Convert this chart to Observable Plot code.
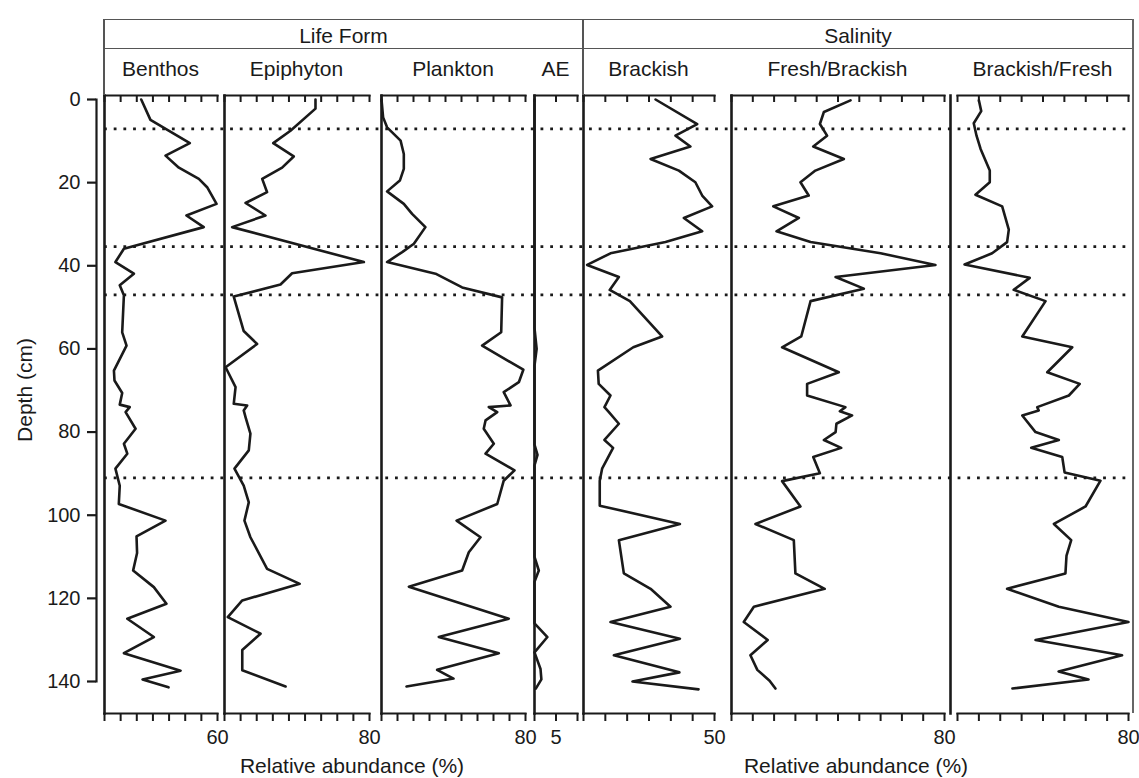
<!DOCTYPE html>
<html>
<head>
<meta charset="utf-8">
<script src="https://cdn.jsdelivr.net/npm/d3@7"></script>
<script src="https://cdn.jsdelivr.net/npm/@observablehq/plot@0.6"></script>
<style>
  body { margin: 0; background: #fff; }
  #chart { position: relative; width: 1139px; height: 778px; font-family: "Liberation Sans", Arial, sans-serif; color: #1a1a1a; overflow: hidden; }
  #chart svg { position: absolute; left: 0; top: 0; }
  .ln { position: absolute; background: #555; }
  .txt { position: absolute; white-space: nowrap; transform: translate(-50%, -50%); font-size: 21px; line-height: 1; }
</style>
</head>
<body>
<div id="chart"></div>
<script>
// ---------------- DATA ----------------
const groupNames = ["Life Form", "Salinity"];
const panelNames = ["Benthos", "Epiphyton", "Plankton", "AE", "Brackish", "Fresh/Brackish", "Brackish/Fresh"];
const panelMax = [60, 80, 80, 10, 50, 80, 80];
const panelTickIntervals = [7, 9, 9, 2, 6, 10, 8];
const panelTickLabel = [60, 80, 80, 5, 50, 80, 80];
const depthTicks = [0, 20, 40, 60, 80, 100, 120, 140];
const zoneBoundaries = [7.05, 35.4, 47.0, 91.0];
const xTitle = "Relative abundance (%)";
const yTitle = "Depth (cm)";

const benthosDepth = [0, 4.9, 10.5, 13.5, 16.4, 19.1, 21.1, 25.1, 27.9, 30.7, 35.9, 39.1, 41.9, 44.7, 47.1, 56.0, 59.2, 65.2, 67.6, 70.6, 73.4, 74.0, 75.2, 79.2, 82.8, 85.2, 88.8, 92.9, 97.3, 101.3, 105.1, 109.1, 113.3, 117.3, 121.3, 124.9, 129.3, 133.2, 137.4, 139.5, 141.4];
const benthosPct   = [19.5, 24.4, 45.3, 32.4, 39.5, 50.1, 54.5, 59.5, 43.5, 52.7, 10.3, 5.8, 15.6, 8.1, 10.3, 9.4, 11.7, 5.0, 5.3, 9.4, 8.1, 13.4, 11.2, 16.5, 10.3, 12.1, 5.8, 8.1, 7.6, 32.4, 17.0, 17.3, 15.2, 26.2, 32.9, 12.1, 26.2, 10.3, 40.4, 20.2, 34.0];

const epiphytonDepth = [0, 2.2, 7.5, 10.5, 13.7, 16.4, 19.1, 22.3, 24.9, 27.9, 30.7, 39.1, 41.8, 44.5, 47.4, 55.7, 58.8, 64.4, 69.2, 73.2, 73.6, 74.8, 76.4, 80.4, 84.4, 88.8, 92.9, 96.9, 101.3, 105.3, 112.9, 116.5, 120.5, 124.5, 128.5, 132.4, 137.3, 141.2];
const epiphytonPct   = [50.2, 50.2, 36.4, 26.9, 38.2, 31.8, 20.8, 23.5, 11.6, 22.6, 4.2, 76.9, 37.3, 30.9, 5.1, 10.6, 18.0, 0.6, 6.1, 5.1, 12.5, 10.6, 11.6, 14.3, 13.4, 5.5, 10.6, 13.4, 11.0, 14.3, 23.5, 41.5, 9.8, 1.8, 19.9, 9.8, 9.8, 33.7];

const planktonDepth = [0, 4.3, 6.7, 9.9, 13.1, 16.7, 19.5, 22.1, 25.1, 27.5, 30.7, 34.7, 36.7, 39.1, 41.9, 45.2, 47.6, 56.0, 59.2, 65.0, 68.0, 70.4, 73.6, 74.0, 75.2, 77.2, 79.2, 82.8, 85.2, 89.2, 91.7, 97.3, 101.3, 105.3, 108.9, 113.3, 117.2, 124.9, 129.3, 133.2, 137.2, 139.3, 141.2];
const planktonPct   = [0, 0.9, 3.1, 10.6, 12.4, 12.4, 10.2, 3.1, 12.4, 17.0, 24.4, 18.0, 11.5, 3.1, 30.0, 44.8, 67.0, 66.5, 55.9, 78.8, 76.3, 67.9, 71.7, 59.6, 64.3, 57.8, 56.8, 62.4, 57.8, 73.9, 67.9, 64.3, 41.7, 55.0, 48.5, 44.8, 15.2, 70.7, 31.8, 65.2, 30.9, 40.0, 13.9];

const aeDepth = [0, 55, 60, 64, 83, 85.5, 88, 110, 113.3, 116, 126, 129.3, 133, 137, 139.5, 141.7];
const aePct   = [0, 0, 0.5, 0, 0, 0.7, 0, 0, 1.0, 0, 0, 3.0, 0, 1.4, 1.6, 0.3];

const brackishDepth = [0, 5.9, 8.7, 11.3, 14.3, 17.1, 19.9, 23.1, 25.7, 28.5, 31.7, 34.3, 37.0, 39.8, 42.7, 45.8, 48.5, 57.0, 59.6, 65.2, 68.4, 71.2, 74.0, 75.2, 78.0, 81.9, 83.8, 88.8, 91.7, 97.7, 102.1, 106.0, 114.0, 117.7, 122.0, 125.7, 129.7, 133.7, 137.8, 140.0, 141.9];
const brackishPct   = [27.5, 43.4, 35.1, 40.8, 25.6, 36.4, 42.7, 45.3, 49.1, 38.3, 45.3, 31.3, 10.3, 1.4, 13.5, 10.0, 17.7, 30.0, 19.0, 5.5, 5.8, 10.3, 8.0, 9.7, 13.5, 8.0, 11.3, 7.1, 6.2, 6.2, 36.8, 13.5, 15.4, 25.6, 33.2, 10.3, 36.8, 11.6, 36.6, 18.7, 43.9];

const freshBrackishDepth = [0.2, 3.0, 5.9, 8.7, 11.3, 14.3, 17.1, 19.9, 23.1, 25.7, 28.5, 31.7, 34.3, 37.0, 39.8, 42.7, 45.5, 48.5, 57.0, 59.6, 65.6, 68.4, 71.2, 74.0, 75.0, 76.0, 78.0, 80.0, 81.9, 83.8, 86.0, 89.9, 91.8, 97.9, 102.1, 106.0, 114.0, 117.7, 122.0, 125.7, 130.0, 133.7, 137.2, 139.8, 141.7];
const freshBrackishPct   = [44.7, 34.7, 33.2, 35.9, 30.7, 42.2, 31.5, 25.9, 29.0, 15.7, 25.3, 16.9, 29.7, 56.0, 76.6, 39.1, 49.7, 29.7, 26.2, 19.0, 40.3, 28.4, 28.4, 42.8, 40.7, 45.3, 39.4, 39.1, 34.7, 41.2, 30.7, 33.2, 19.0, 25.9, 9.0, 23.4, 24.0, 35.0, 8.4, 4.6, 13.6, 7.1, 9.7, 14.3, 16.5];

const brackishFreshDepth = [0.2, 2.8, 5.7, 8.7, 11.9, 17.1, 19.9, 22.9, 25.7, 31.3, 34.3, 37.0, 39.7, 42.9, 45.8, 48.5, 57.0, 59.6, 65.6, 68.4, 71.2, 74.0, 74.8, 76.0, 80.0, 81.9, 83.8, 86.0, 89.7, 91.7, 97.9, 102.1, 106.0, 109.7, 114.0, 117.7, 122.0, 125.7, 130.0, 133.7, 137.6, 139.5, 141.7];
const brackishFreshPct   = [10.0, 11.1, 7.6, 8.9, 10.8, 15.1, 15.1, 8.4, 20.9, 24.0, 23.2, 16.2, 3.3, 33.8, 26.3, 41.2, 30.3, 53.7, 42.0, 57.2, 52.1, 37.3, 38.0, 30.3, 36.5, 47.4, 34.5, 49.0, 50.1, 66.9, 59.9, 45.1, 53.2, 51.0, 50.5, 23.2, 47.4, 80.0, 36.5, 77.0, 47.3, 61.3, 25.7];

const panelDepths = [benthosDepth, epiphytonDepth, planktonDepth, aeDepth, brackishDepth, freshBrackishDepth, brackishFreshDepth];
const panelValues = [benthosPct, epiphytonPct, planktonPct, aePct, brackishPct, freshBrackishPct, brackishFreshPct];

// ---------------- LAYOUT ----------------
const W = 1139, H = 778;
const L = { headTop: 19, headMid: 48, axisTop: 95, axisBottom: 713, depthTop: 99, depthBottom: 681,
            left: 104, right: 1133, split: 583, yAxisX: 96 };
const panelRanges = [[104, 217], [224, 369], [381, 525], [534, 577], [583, 714], [731, 944], [957, 1128]];
const frameShift = [0, 0, 0, 0, 0, 0, -7];
const groupRanges = [[104, 583], [583, 1133]];
const xTitleCenters = [352, 856];
const INK = "#1a1a1a";
const FONT = '"Liberation Sans", Arial, sans-serif';

const chart = document.getElementById("chart");
const baseStyle = { background: "transparent", overflow: "visible", fontFamily: FONT, fontSize: "20px", color: INK };

// zone boundaries (dotted) across all panels
chart.appendChild(Plot.plot({
  width: W, height: H,
  marginLeft: L.left, marginRight: W - L.right, marginTop: L.axisTop, marginBottom: H - L.axisBottom,
  x: { domain: [0, 1], axis: null },
  y: { domain: [0, 140], range: [L.depthTop, L.depthBottom], axis: null },
  style: baseStyle,
  marks: [
    Plot.ruleY(zoneBoundaries, { stroke: INK, strokeWidth: 2.8, strokeDasharray: "2.8 6.9" })
  ]
}));

// depth axis
chart.appendChild(Plot.plot({
  width: W, height: H,
  marginLeft: L.yAxisX, marginRight: 0, marginTop: L.depthTop, marginBottom: H - L.depthBottom,
  x: { domain: [0, 1], axis: null },
  y: { domain: [0, 140], range: [L.depthTop, L.depthBottom], axis: null },
  style: baseStyle,
  marks: [
    Plot.frame({ anchor: "left", stroke: INK, strokeWidth: 2.2 }),
    Plot.axisY(depthTicks, { anchor: "left", tickSize: 9, tickPadding: 7, fontSize: 20, strokeWidth: 2.2, label: null, tickFormat: d => String(d) })
  ]
}));

// panels
panelNames.forEach((name, i) => {
  const max = panelMax[i];
  const ticks = d3.range(panelTickIntervals[i] + 1).map(k => k * max / panelTickIntervals[i]);
  const data = panelDepths[i].map((d, k) => ({ depth: d, pct: panelValues[i][k] }));
  const [x0, x1] = panelRanges[i];
  chart.appendChild(Plot.plot({
    width: W, height: H,
    marginLeft: x0, marginRight: W - x1, marginTop: L.axisTop, marginBottom: H - L.axisBottom,
    x: { domain: [0, max], axis: null },
    y: { domain: [0, 140], range: [L.depthTop, L.depthBottom], axis: null },
    style: baseStyle,
    marks: [
      Plot.frame({ anchor: "left", stroke: INK, strokeWidth: 2.6, dx: frameShift[i] }),
      Plot.frame({ anchor: "top", stroke: INK, strokeWidth: 2.2 }),
      Plot.frame({ anchor: "bottom", stroke: INK, strokeWidth: 2.2 }),
      Plot.ruleX(ticks, { x: d => d, stroke: INK, strokeWidth: 2, insetBottom: (L.axisBottom - L.axisTop) - 7 }),
      Plot.axisX(ticks, { anchor: "bottom", tickSize: 8, tickPadding: 8, strokeWidth: 2, fontSize: 20, label: null,
        tickFormat: d => (Math.abs(d - panelTickLabel[i]) < 1e-9 ? String(panelTickLabel[i]) : "") }),
      Plot.line(data, { x: "pct", y: "depth", stroke: INK, strokeWidth: 2.6, strokeLinejoin: "round" })
    ]
  }));
});

// header box (HTML)
function line(x, y, w, h, color) {
  const d = document.createElement("div");
  d.className = "ln";
  d.style.left = x + "px"; d.style.top = y + "px"; d.style.width = w + "px"; d.style.height = h + "px";
  if (color) d.style.background = color;
  chart.appendChild(d);
}
function text(str, cx, cy, size, rotate) {
  const d = document.createElement("div");
  d.className = "txt";
  d.textContent = str;
  d.style.left = cx + "px"; d.style.top = cy + "px";
  if (size) d.style.fontSize = size + "px";
  if (rotate) d.style.transform = "translate(-50%, -50%) rotate(-90deg)";
  chart.appendChild(d);
}
line(L.left - 0.7, L.headTop, L.right - L.left + 1.4, 1.4);
line(L.left - 0.7, L.headMid, L.right - L.left + 1.4, 1.4);
line(L.left - 0.7, L.headTop, 1.5, L.axisTop - L.headTop);
line(L.split - 0.7, L.headTop, 1.5, L.axisTop - L.headTop);
line(L.right - 0.7, L.headTop, 1.4, L.axisBottom - L.headTop, "#666");

groupNames.forEach((g, i) => text(g, (groupRanges[i][0] + groupRanges[i][1]) / 2, (L.headTop + L.headMid) / 2 + 1, 21));
panelNames.forEach((n, i) => text(n, (panelRanges[i][0] + panelRanges[i][1]) / 2, 68, 21));
xTitleCenters.forEach(cx => text(xTitle, cx, 765, 21));
text(yTitle, 24, 390, 21, true);
</script>
</body>
</html>
